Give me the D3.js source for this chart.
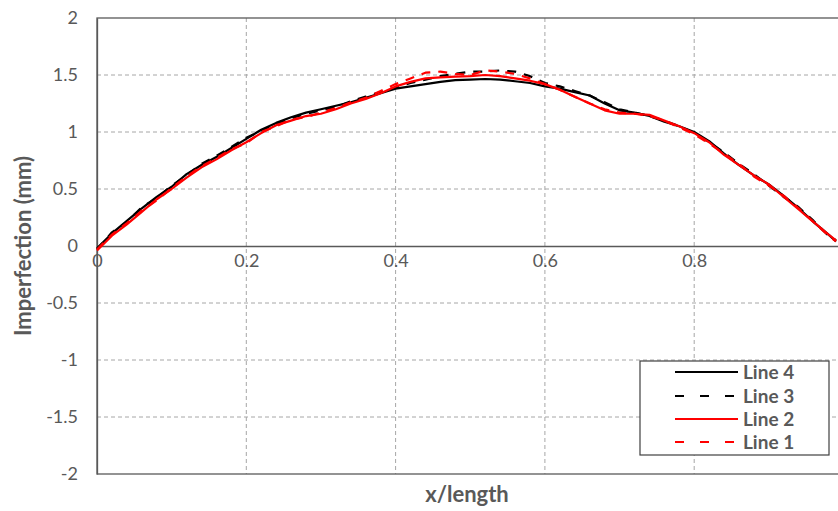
<!DOCTYPE html>
<html>
<head>
<meta charset="utf-8">
<script src="https://cdnjs.cloudflare.com/ajax/libs/d3/7.8.5/d3.min.js"></script>
<style>
  html, body { margin: 0; padding: 0; background: #fff; }
  svg { display: block; }
</style>
</head>
<body>
<svg id="chart" width="838" height="511"></svg>
<script>
// ---- data ----
const xValues = [0,0.02,0.04,0.06,0.08,0.10,0.12,0.14,0.16,0.18,0.20,0.22,0.24,0.26,0.28,0.30,0.32,0.34,0.36,0.38,0.40,0.42,0.44,0.46,0.48,0.50,0.52,0.54,0.56,0.58,0.60,0.62,0.64,0.66,0.68,0.70,0.72,0.74,0.76,0.78,0.80,0.82,0.84,0.86,0.88,0.90,0.92,0.94,0.96,0.98,0.99];
const line4 = [-0.02,0.11,0.22,0.33,0.43,0.52,0.63,0.71,0.78,0.86,0.94,1.02,1.08,1.13,1.17,1.20,1.23,1.26,1.30,1.34,1.38,1.40,1.42,1.44,1.455,1.46,1.465,1.46,1.445,1.43,1.40,1.38,1.35,1.32,1.25,1.19,1.17,1.14,1.09,1.05,1.00,0.92,0.81,0.71,0.62,0.54,0.44,0.33,0.21,0.10,0.04];
const line3 = [-0.03,0.12,0.21,0.34,0.42,0.53,0.62,0.72,0.79,0.87,0.95,1.01,1.07,1.12,1.16,1.19,1.22,1.27,1.31,1.35,1.39,1.43,1.46,1.49,1.51,1.53,1.53,1.54,1.53,1.49,1.43,1.40,1.36,1.32,1.26,1.20,1.17,1.14,1.10,1.05,0.99,0.91,0.82,0.72,0.63,0.53,0.43,0.34,0.22,0.09,0.05];
const line2 = [-0.04,0.09,0.19,0.30,0.41,0.50,0.60,0.69,0.76,0.84,0.91,0.99,1.06,1.10,1.14,1.16,1.20,1.25,1.29,1.34,1.40,1.44,1.47,1.48,1.485,1.49,1.50,1.49,1.47,1.45,1.42,1.37,1.31,1.25,1.19,1.16,1.16,1.15,1.10,1.05,0.99,0.91,0.80,0.71,0.62,0.54,0.43,0.32,0.21,0.10,0.05];
const line1 = [-0.03,0.10,0.20,0.31,0.40,0.51,0.61,0.70,0.77,0.85,0.90,1.00,1.05,1.11,1.13,1.17,1.21,1.26,1.30,1.36,1.42,1.47,1.52,1.53,1.51,1.50,1.54,1.53,1.51,1.47,1.42,1.37,1.31,1.25,1.20,1.17,1.16,1.14,1.10,1.04,0.98,0.90,0.81,0.72,0.61,0.53,0.44,0.33,0.21,0.09,0.04];
const seriesNames = ["Line 4","Line 3","Line 2","Line 1"];
const seriesData = [line4, line3, line2, line1];
const seriesColors = ["#000000","#000000","#ff0000","#ff0000"];
const seriesDashed = [false, true, false, true];
const xTicks = [0,0.2,0.4,0.6,0.8];
const yTicks = [-2,-1.5,-1,-0.5,0,0.5,1,1.5,2];
const xTitle = "x/length";
const yTitle = "Imperfection (mm)";

(function () {
// ---- layout ----
const svg = d3.select("#chart");
const pL = 97, pR = 843.5, pT = 18, pB = 474;
const x = d3.scaleLinear().domain([0,1]).range([pL,pR]);
const y = d3.scaleLinear().domain([-2,2]).range([pB,pT]);
const textColor = "#595959";
const axisColor = "#595959";
const font = "Lato, 'Open Sans', sans-serif";

// gridlines
svg.append("g").selectAll("line").data(yTicks.filter(d => d !== 0 && d !== -2 && d !== 2)).join("line")
  .attr("x1", pL).attr("x2", pR)
  .attr("y1", d => y(d)).attr("y2", d => y(d))
  .attr("stroke", "#a6a6a6").attr("stroke-width", 1).attr("stroke-dasharray", "4,3");
svg.append("g").selectAll("line").data([0.2,0.4,0.6,0.8,1.0]).join("line")
  .attr("x1", d => x(d)).attr("x2", d => x(d))
  .attr("y1", pT).attr("y2", pB)
  .attr("stroke", "#a6a6a6").attr("stroke-width", 1).attr("stroke-dasharray", "4,3");

// plot area border
svg.append("rect").attr("x", pL).attr("y", pT).attr("width", pR-pL).attr("height", pB-pT)
  .attr("fill", "none").attr("stroke", axisColor).attr("stroke-width", 1.3);

// y axis
const yAxis = d3.axisLeft(y).tickValues(yTicks).tickSize(0).tickPadding(19)
  .tickFormat(d => String(d));
const gy = svg.append("g").attr("transform", `translate(${pL},0)`).call(yAxis);
gy.select(".domain").attr("stroke", axisColor).attr("stroke-width", 1.3);
gy.selectAll("text").attr("fill", textColor).attr("font-size", 18).attr("font-family", font);

// x axis at y=0
const xAxis = d3.axisBottom(x).tickValues(xTicks).tickSize(0).tickPadding(8)
  .tickFormat(d => String(d));
const gx = svg.append("g").attr("transform", `translate(0,${y(0)})`).call(xAxis);
gx.select(".domain").attr("stroke", axisColor).attr("stroke-width", 1.3);
gx.selectAll("text").attr("fill", textColor).attr("font-size", 18).attr("font-family", font);

// lines
const lineGen = d3.line().x((d,i) => x(xValues[i])).y(d => y(d)).curve(d3.curveLinear);
svg.append("g").selectAll("path").data(seriesData).join("path")
  .attr("d", d => lineGen(d))
  .attr("fill", "none")
  .attr("stroke", (d,i) => seriesColors[i])
  .attr("stroke-width", 2.2)
  .attr("stroke-linejoin", "round")
  .attr("stroke-dasharray", (d,i) => seriesDashed[i] ? "9,8" : null);

// axis titles
svg.append("text").attr("x", 467).attr("y", 502).attr("text-anchor", "middle")
  .attr("font-family", font).attr("font-weight", "bold").attr("font-size", 22)
  .attr("fill", textColor).text(xTitle);
svg.append("text").attr("transform", `translate(31,${(pT+pB)/2}) rotate(-90)`)
  .attr("text-anchor", "middle")
  .attr("font-family", font).attr("font-weight", "bold").attr("font-size", 22)
  .attr("fill", textColor).text(yTitle);

// legend
const lg = svg.append("g");
lg.append("rect").attr("x", 640).attr("y", 361).attr("width", 189).attr("height", 94)
  .attr("fill", "#fff").attr("stroke", "#404040").attr("stroke-width", 1.2);
const rowY = [372, 396, 419, 442];
seriesNames.forEach((name, i) => {
  lg.append("line").attr("x1", 675).attr("x2", 738).attr("y1", rowY[i]).attr("y2", rowY[i])
    .attr("stroke", seriesColors[i]).attr("stroke-width", 2)
    .attr("stroke-dasharray", seriesDashed[i] ? "9,16" : null);
  lg.append("text").attr("x", 743).attr("y", rowY[i]).attr("dy", "0.35em")
    .attr("font-family", font).attr("font-weight", "bold").attr("font-size", 19)
    .attr("fill", textColor).text(name);
});
})();
</script>
</body>
</html>
